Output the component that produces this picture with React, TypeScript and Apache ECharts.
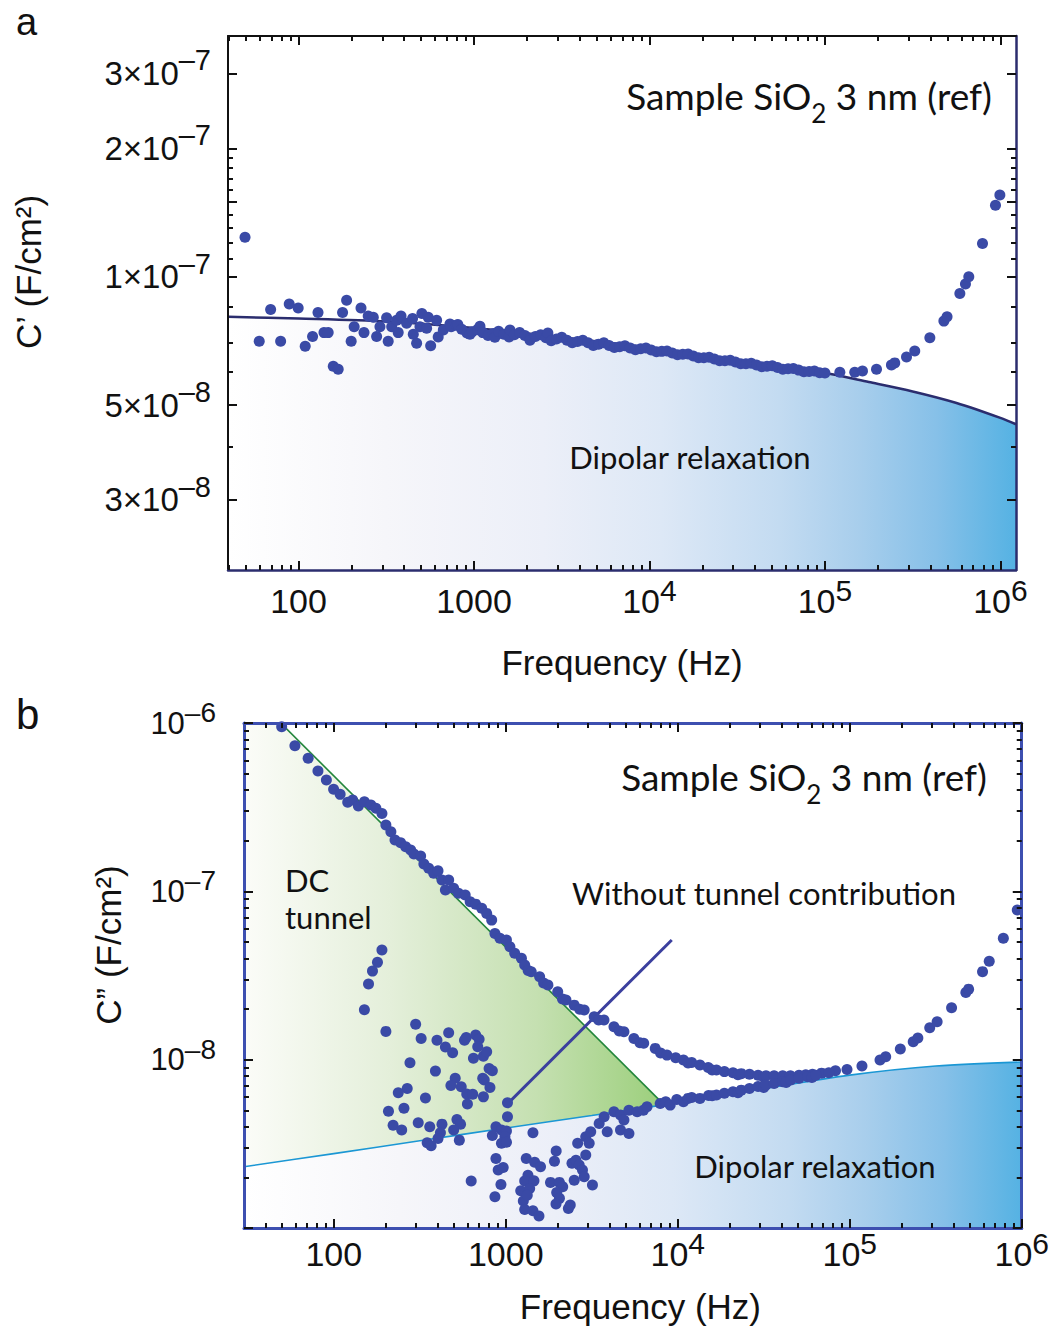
import React, { useEffect, useRef } from "react";
import * as echarts from "echarts";

// All data are [log10 frequency (Hz), log10 capacitance (F/cm²)].

// ---------- Panel (a): C' ----------
const aFreqRange = [1.598, 6.089];
const aCapRange = [-7.688, -6.435];

const aLowFreqPoints = [
  [1.695, -6.907], [1.776, -7.151], [1.841, -7.077], [1.898, -7.151], [1.947, -7.064], [1.998, -7.073],
  [2.038, -7.163], [2.08, -7.14], [2.111, -7.084], [2.145, -7.131], [2.169, -7.131], [2.198, -7.21],
  [2.226, -7.217], [2.251, -7.084], [2.274, -7.055], [2.3, -7.151], [2.317, -7.117], [2.356, -7.073],
  [2.373, -7.131], [2.397, -7.092], [2.426, -7.095], [2.445, -7.14], [2.464, -7.117], [2.502, -7.096],
  [2.511, -7.151], [2.531, -7.117], [2.559, -7.102], [2.568, -7.131], [2.584, -7.092], [2.616, -7.109],
  [2.65, -7.098], [2.654, -7.135], [2.673, -7.156], [2.692, -7.117], [2.703, -7.086], [2.73, -7.121],
  [2.739, -7.095], [2.753, -7.162], [2.787, -7.102], [2.796, -7.141], [2.825, -7.125], [2.863, -7.111],
];
const aMainBand = [
  [2.87, -7.117], [2.9, -7.114], [2.908, -7.112], [2.93, -7.123], [2.96, -7.132], [2.977, -7.135],
  [2.99, -7.129], [3.02, -7.124], [3.034, -7.116], [3.05, -7.131], [3.08, -7.138], [3.11, -7.133],
  [3.119, -7.142], [3.14, -7.128], [3.17, -7.135], [3.2, -7.141], [3.205, -7.125], [3.23, -7.136],
  [3.26, -7.131], [3.29, -7.138], [3.32, -7.145], [3.319, -7.149], [3.35, -7.14], [3.38, -7.136],
  [3.41, -7.143], [3.421, -7.132], [3.44, -7.15], [3.47, -7.146], [3.5, -7.142], [3.53, -7.149],
  [3.56, -7.155], [3.59, -7.152], [3.62, -7.149], [3.65, -7.155], [3.68, -7.161], [3.71, -7.158],
  [3.74, -7.155], [3.77, -7.161], [3.8, -7.166], [3.83, -7.164], [3.86, -7.162], [3.89, -7.167],
  [3.92, -7.171], [3.95, -7.169], [3.98, -7.167], [4.01, -7.172], [4.04, -7.176], [4.07, -7.175],
  [4.1, -7.174], [4.13, -7.179], [4.16, -7.183], [4.19, -7.182], [4.22, -7.181], [4.25, -7.186],
  [4.28, -7.19], [4.31, -7.19], [4.34, -7.189], [4.37, -7.193], [4.4, -7.197], [4.43, -7.197],
  [4.46, -7.196], [4.49, -7.2], [4.52, -7.204], [4.55, -7.204], [4.58, -7.203], [4.61, -7.207],
  [4.64, -7.211], [4.67, -7.21], [4.7, -7.209], [4.73, -7.213], [4.76, -7.217], [4.79, -7.216],
  [4.82, -7.215], [4.85, -7.219], [4.88, -7.223], [4.91, -7.222], [4.94, -7.221], [4.97, -7.225],
  [5.0, -7.226],
];
const aHighFreqPoints = [
  [5.085, -7.224], [5.17, -7.224], [5.214, -7.221], [5.294, -7.217], [5.379, -7.207], [5.398, -7.202],
  [5.465, -7.188], [5.512, -7.174], [5.598, -7.143], [5.678, -7.104], [5.696, -7.094], [5.769, -7.039],
  [5.801, -7.017], [5.82, -7.0], [5.898, -6.922], [5.972, -6.832], [5.997, -6.808],
];
const aDipolarFit = [
  [1.598, -7.094], [2.0, -7.098], [2.5, -7.105], [3.0, -7.12], [3.5, -7.142], [4.0, -7.167],
  [4.5, -7.198], [5.0, -7.226], [5.25, -7.247], [5.5, -7.269], [5.75, -7.296], [6.0, -7.331],
  [6.089, -7.346],
];
const aYLabelValues = [3e-8, 5e-8, 1e-7, 2e-7, 3e-7];
const aYMajorTicks = [3e-8, 5e-8, 1e-7, 1.5e-7, 2e-7, 3e-7];
const aYMinorTicks = [4e-8, 6e-8, 7e-8, 8.5e-8, 1.1e-7, 1.2e-7, 1.3e-7, 1.4e-7, 1.6e-7, 1.7e-7, 1.8e-7, 1.9e-7];

// ---------- Panel (b): C'' ----------
const bFreqRange = [1.478, 6.0];
const bCapRange = [-9, -6];

const bWithTunnel = [
  [1.697, -6.022], [1.774, -6.135], [1.851, -6.21], [1.908, -6.285], [1.957, -6.339], [1.999, -6.394],
  [2.037, -6.424], [2.081, -6.471], [2.11, -6.458], [2.143, -6.493], [2.178, -6.468], [2.216, -6.487],
  [2.245, -6.507], [2.28, -6.537], [2.303, -6.606], [2.332, -6.646], [2.356, -6.695], [2.389, -6.711],
  [2.418, -6.735], [2.447, -6.755], [2.466, -6.778], [2.505, -6.79], [2.524, -6.838], [2.552, -6.863],
  [2.581, -6.893], [2.606, -6.878], [2.629, -6.933], [2.649, -6.992], [2.668, -6.933], [2.697, -6.982],
  [2.725, -7.012], [2.764, -7.022], [2.793, -7.062], [2.825, -7.076], [2.86, -7.101], [2.889, -7.131],
  [2.918, -7.171], [2.937, -7.25], [2.966, -7.279], [3.004, -7.289], [3.024, -7.329], [3.052, -7.368],
  [3.091, -7.398], [3.11, -7.438], [3.13, -7.47], [3.148, -7.478], [3.197, -7.507], [3.22, -7.545],
  [3.245, -7.557], [3.302, -7.597], [3.33, -7.64], [3.35, -7.646], [3.398, -7.676], [3.43, -7.7],
  [3.456, -7.705], [3.514, -7.745], [3.54, -7.765], [3.571, -7.765], [3.629, -7.805], [3.66, -7.83],
  [3.687, -7.834], [3.745, -7.874], [3.78, -7.9], [3.802, -7.903], [3.869, -7.933], [3.9, -7.96],
  [3.937, -7.973], [3.988, -7.988], [4.033, -8.002], [4.06, -8.02], [4.081, -8.017], [4.129, -8.032],
  [4.177, -8.047], [4.2, -8.062], [4.225, -8.062], [4.271, -8.071], [4.321, -8.078], [4.35, -8.09],
  [4.369, -8.083], [4.417, -8.086], [4.467, -8.092], [4.5, -8.104], [4.513, -8.096], [4.56, -8.096],
  [4.61, -8.096], [4.65, -8.104], [4.655, -8.095], [4.705, -8.092], [4.744, -8.09], [4.783, -8.087],
  [4.836, -8.08],
];
const bHighFreqPoints = [
  [4.917, -8.066], [4.984, -8.058], [5.071, -8.038], [5.176, -8.002], [5.209, -7.983], [5.294, -7.937],
  [5.369, -7.894], [5.396, -7.871], [5.465, -7.811], [5.508, -7.775], [5.592, -7.692], [5.675, -7.601],
  [5.691, -7.581], [5.772, -7.477], [5.811, -7.416], [5.893, -7.279], [5.974, -7.111],
];
const bWithoutTunnel = [
  [3.418, -8.497], [3.465, -8.458], [3.494, -8.428], [3.543, -8.379], [3.572, -8.339], [3.59, -8.428],
  [3.629, -8.31], [3.667, -8.329], [3.667, -8.418], [3.687, -8.359], [3.716, -8.3], [3.716, -8.438],
  [3.764, -8.31], [3.8, -8.3], [3.821, -8.28], [3.898, -8.26], [3.93, -8.25], [3.956, -8.27],
  [3.994, -8.236], [4.033, -8.25], [4.06, -8.23], [4.081, -8.225], [4.129, -8.23], [4.179, -8.213],
  [4.2, -8.214], [4.225, -8.21], [4.271, -8.199], [4.321, -8.191], [4.35, -8.196], [4.369, -8.181],
  [4.417, -8.171], [4.467, -8.16], [4.5, -8.165], [4.513, -8.151], [4.56, -8.142], [4.61, -8.131],
  [4.63, -8.135], [4.657, -8.121], [4.705, -8.111], [4.756, -8.101], [4.78, -8.106], [4.802, -8.092],
  [4.878, -8.078],
];
const bLowFreqScatter = [
  [2.28, -7.349], [2.254, -7.422], [2.225, -7.474], [2.202, -7.551], [2.178, -7.704], [2.303, -7.832],
  [2.476, -7.789], [2.508, -7.874], [2.443, -8.018], [2.6, -7.884], [2.668, -7.84], [2.649, -7.925],
  [2.691, -7.959], [2.76, -7.884], [2.77, -7.868], [2.825, -7.854], [2.845, -7.879], [2.837, -7.923],
  [2.812, -7.992], [2.87, -7.979], [2.889, -7.953], [2.903, -8.052], [2.922, -8.066], [2.591, -8.068],
  [2.706, -8.111], [2.681, -8.153], [2.741, -8.161], [2.866, -8.111], [2.875, -8.121], [2.908, -8.165],
  [2.773, -8.204], [2.808, -8.206], [2.777, -8.264], [2.87, -8.221], [2.427, -8.171], [2.375, -8.197],
  [2.408, -8.289], [2.318, -8.307], [2.533, -8.228], [2.345, -8.39], [2.395, -8.418], [2.491, -8.375],
  [2.558, -8.399], [2.629, -8.383], [2.62, -8.434], [2.606, -8.468], [2.716, -8.355], [2.737, -8.383],
  [2.697, -8.418], [2.73, -8.478], [2.543, -8.494], [2.566, -8.512],
  [3.01, -8.256], [3.01, -8.339], [2.943, -8.399], [2.975, -8.418], [3.004, -8.424], [2.922, -8.45],
  [2.995, -8.458], [2.975, -8.497], [3.004, -8.491], [3.158, -8.434], [2.943, -8.587], [2.956, -8.656],
  [2.985, -8.64], [2.799, -8.721], [2.972, -8.741], [2.937, -8.815], [3.119, -8.587], [3.168, -8.61],
  [3.202, -8.636], [3.129, -8.686], [3.11, -8.721], [3.164, -8.72], [3.087, -8.779], [3.139, -8.765],
  [3.102, -8.839], [3.125, -8.805], [3.11, -8.89], [3.158, -8.898], [3.193, -8.929], [3.293, -8.543],
  [3.283, -8.603], [3.26, -8.729], [3.312, -8.729], [3.331, -8.755], [3.296, -8.789], [3.312, -8.824],
  [3.292, -8.858], [3.364, -8.884], [3.375, -8.864], [3.385, -8.616], [3.408, -8.597], [3.427, -8.626],
  [3.446, -8.656], [3.398, -8.716], [3.456, -8.696], [3.504, -8.745], [3.465, -8.567], [3.485, -8.497],
];
const bTunnelFit = [[1.478, -5.783], [3.908, -8.255]];
const bDipolarFit = [
  [1.478, -8.636], [2.0, -8.558], [2.5, -8.482], [3.0, -8.406], [3.5, -8.332], [3.908, -8.27],
  [4.5, -8.172], [5.0, -8.092], [5.5, -8.038], [6.0, -8.014],
];
const bPointer = [[3.014, -8.258], [3.965, -7.289]];

const decadeLabels = [2, 3, 4, 5, 6];
const bYTicks = [-9, -8, -7, -6];
const bYLabels = [-8, -7, -6];

// ---------- styling ----------
const SANS = "'Liberation Sans', Arial, Helvetica, sans-serif";
const ANNO = "Lato, 'Open Sans', 'Noto Sans', sans-serif";
const DOT = "#3a4aa6";
const INK = "#111111";

const lg = (v: number) => Math.log10(v);
function minorDecadeTicks(lo: number, hi: number) {
  const out: number[] = [];
  for (let n = Math.floor(lo); n <= Math.ceil(hi); n++) {
    for (let k = 2; k <= 9; k++) {
      const v = n + Math.log10(k);
      if (v > lo + 1e-6 && v < hi - 1e-6) out.push(v);
    }
  }
  return out;
}

function axisPair(grid: number, pos: string, range: number[], major: number[], minor: number[], lineColor: string, lineWidth: number, label?: any, extra?: any) {
  const base = {
    type: "value",
    gridIndex: grid,
    position: pos,
    min: range[0],
    max: range[1],
    z: 10,
    splitLine: { show: false },
  };
  const a = {
    ...base,
    axisLine: { show: true, onZero: false, lineStyle: { color: lineColor, width: lineWidth } },
    axisTick: { show: true, inside: true, length: 9, lineStyle: { color: INK, width: 2 }, customValues: major },
    axisLabel: label ? label : { show: false },
    ...(extra || {}),
  };
  const b = {
    ...base,
    axisLine: { show: false },
    axisTick: { show: true, inside: true, length: 5, lineStyle: { color: INK, width: 2 }, customValues: minor },
    axisLabel: { show: false },
  };
  return [a, b];
}

// superscript raised with bottom padding on the exponent token
function supRich(baseSize: number, supSize: number, pad: number) {
  return {
    b: { fontSize: baseSize, fontFamily: SANS, lineHeight: supSize + pad, verticalAlign: "bottom", color: INK },
    s: { fontSize: supSize, fontFamily: SANS, lineHeight: supSize, padding: [0, 0, pad, 0], verticalAlign: "bottom", color: INK },
  };
}

const freqFormatter = (v: number) => {
  const n = Math.round(v);
  return n <= 3 ? `{b|${Math.pow(10, n)}}` : `{b|10}{s|${n}}`;
};

function xLabel(margin: number) {
  return {
    show: true,
    margin,
    color: INK,
    customValues: decadeLabels,
    formatter: freqFormatter,
    rich: supRich(34, 30, 13),
  };
}

const hGrad = (stops: [number, string][]) =>
  new echarts.graphic.LinearGradient(0, 0, 1, 0, stops.map(([offset, color]) => ({ offset, color })));

function buildOption() {
  const aXMinor = minorDecadeTicks(aFreqRange[0], aFreqRange[1]);
  const bXMinor = minorDecadeTicks(bFreqRange[0], bFreqRange[1]);
  const bYMinor = minorDecadeTicks(bCapRange[0], bCapRange[1]);
  const aYMaj = aYMajorTicks.map(lg);
  const aYMin = aYMinorTicks.map(lg);
  const NAVY = "#2b2d6e";
  const FRAME_B = "#3d4fb0";

  const xName = (gap: number, pad: number) => ({
    name: "Frequency (Hz)",
    nameLocation: "middle",
    nameGap: gap,
    nameTextStyle: { fontSize: 35, fontFamily: SANS, color: INK, lineHeight: 40, padding: [0, 0, 0, pad] },
  });

  const xAxis = [
    ...axisPair(0, "bottom", aFreqRange, decadeLabels, aXMinor, NAVY, 2.5, xLabel(5), xName(72, 0)),
    ...axisPair(0, "top", aFreqRange, decadeLabels, aXMinor, INK, 2),
    ...axisPair(1, "bottom", bFreqRange, decadeLabels, bXMinor, FRAME_B, 3, xLabel(0), xName(58, 15)),
    ...axisPair(1, "top", bFreqRange, decadeLabels, bXMinor, FRAME_B, 3),
  ];
  const yAxis = [
    ...axisPair(0, "left", aCapRange, aYMaj, aYMin, INK, 2, {
      show: true,
      margin: 17,
      color: INK,
      padding: [0, 0, 11, 0],
      customValues: aYLabelValues.map(lg),
      formatter: (v: number) => {
        const e = Math.floor(v + 1e-6);
        const m = Math.round(Math.pow(10, v - e));
        return `{b|${m}×10}{s|–${-e}}`;
      },
      rich: supRich(33, 29, 15),
    }),
    ...axisPair(0, "right", aCapRange, aYMaj, aYMin, NAVY, 2.5),
    ...axisPair(1, "left", bCapRange, bYTicks, bYMinor, FRAME_B, 3, {
      show: true,
      margin: 28,
      color: INK,
      padding: [0, 0, 9, 0],
      customValues: bYLabels,
      formatter: (v: number) => `{b|10}{s|–${-Math.round(v)}}`,
      rich: supRich(31, 28, 12),
    }),
    ...axisPair(1, "right", bCapRange, bYTicks, bYMinor, FRAME_B, 3),
  ];

  const blueStops: [number, string][] = [
    [0, "#ffffff"], [0.2, "#f6f6fa"], [0.4, "#eceff8"], [0.55, "#dde8f6"], [0.7, "#c3dbf1"], [0.8, "#a8ceec"], [0.9, "#86c0e8"], [1, "#55b2e3"],
  ];
  const greenStops: [number, string][] = [
    [0, "#fbfcf8"], [0.35, "#e4efda"], [0.7, "#c5e0b1"], [1, "#9ccf7c"],
  ];

  const sample = (x: number, y: number) => ({
    type: "text",
    x,
    y,
    z: 100,
    style: {
      text: "{t|Sample SiO}{sub|2}{t| 3 nm (ref)}",
      fill: INK,
      align: "right",
      verticalAlign: "middle",
      rich: {
        t: { fontSize: 37, fontFamily: ANNO, lineHeight: 48, verticalAlign: "top", fill: INK },
        sub: { fontSize: 26, fontFamily: ANNO, lineHeight: 26, padding: [23, 0, 0, 0], verticalAlign: "top", fill: INK },
      },
    },
  });
  const anno = (text: string, x: number, y: number, align: string, size = 31) => ({
    type: "text",
    x,
    y,
    z: 100,
    style: { text, fontSize: size, fontFamily: ANNO, fill: INK, align, verticalAlign: "middle" },
  });
  const letter = (text: string, y: number, size: number) => ({
    type: "text",
    x: 16,
    y,
    z: 100,
    style: { text, fontSize: size, lineHeight: 30, fontFamily: SANS, fill: INK, align: "left", verticalAlign: "middle" },
  });

  return {
    animation: false,
    backgroundColor: "#ffffff",
    grid: [
      { left: 228, top: 36, width: 788, height: 534 },
      { left: 244, top: 723, width: 783, height: 505 },
    ],
    xAxis,
    yAxis,
    series: [
      {
        type: "line", xAxisIndex: 0, yAxisIndex: 0, data: aDipolarFit, smooth: 0.3, symbol: "none", silent: true, z: 1,
        lineStyle: { color: NAVY, width: 2.5 },
        areaStyle: { origin: "start", opacity: 1, color: hGrad(blueStops) },
      },
      {
        type: "scatter", xAxisIndex: 0, yAxisIndex: 0, symbolSize: 11, z: 3,
        itemStyle: { color: DOT, opacity: 1 },
        data: [...aLowFreqPoints, ...aMainBand, ...aHighFreqPoints],
      },
      {
        type: "line", xAxisIndex: 4, yAxisIndex: 4, data: bTunnelFit, symbol: "none", silent: true, z: 1,
        lineStyle: { color: "#23863c", width: 1.6 },
        areaStyle: { origin: "start", opacity: 1, color: hGrad(greenStops) },
      },
      {
        type: "line", xAxisIndex: 4, yAxisIndex: 4, data: bDipolarFit, smooth: 0.3, symbol: "none", silent: true, z: 2,
        lineStyle: { color: "#1b97d4", width: 1.6 },
        areaStyle: { origin: "start", opacity: 1, color: hGrad(blueStops) },
      },
      {
        type: "line", xAxisIndex: 4, yAxisIndex: 4, data: bPointer, symbol: "none", silent: true, z: 4,
        lineStyle: { color: "#3b3f9e", width: 3 },
      },
      {
        type: "scatter", xAxisIndex: 4, yAxisIndex: 4, symbolSize: 11, z: 5,
        itemStyle: { color: DOT, opacity: 1 },
        data: [...bWithTunnel, ...bHighFreqPoints, ...bWithoutTunnel, ...bLowFreqScatter],
      },
    ],
    graphic: {
      elements: [
        letter("a", 22, 38),
        letter("b", 714, 42),
        { type: "text", x: 28, y: 272, z: 100, rotation: Math.PI / 2, style: { text: "C’ (F/cm²)", fontSize: 35, fontFamily: SANS, fill: INK, align: "center", verticalAlign: "middle" } },
        { type: "text", x: 108, y: 945, z: 100, rotation: Math.PI / 2, style: { text: "C” (F/cm²)", fontSize: 35, fontFamily: SANS, fill: INK, align: "center", verticalAlign: "middle" } },
        sample(992, 101),
        sample(987, 782),
        anno("Dipolar relaxation", 690, 457, "center"),
        anno("Dipolar relaxation", 815, 1166, "center"),
        anno("DC", 285, 880, "left"),
        anno("tunnel", 285, 917, "left"),
        anno("Without tunnel contribution", 764, 893, "center"),
      ],
    },
  };
}

export default function App() {
  const ref = useRef<HTMLDivElement>(null);
  useEffect(() => {
    if (!ref.current) return;
    const chart = echarts.init(ref.current, undefined, { renderer: "svg" });
    chart.setOption(buildOption() as any);
    return () => chart.dispose();
  }, []);
  return <div ref={ref} style={{ position: "absolute", left: 0, top: 0, width: 1052, height: 1327, background: "#fff" }} />;
}
